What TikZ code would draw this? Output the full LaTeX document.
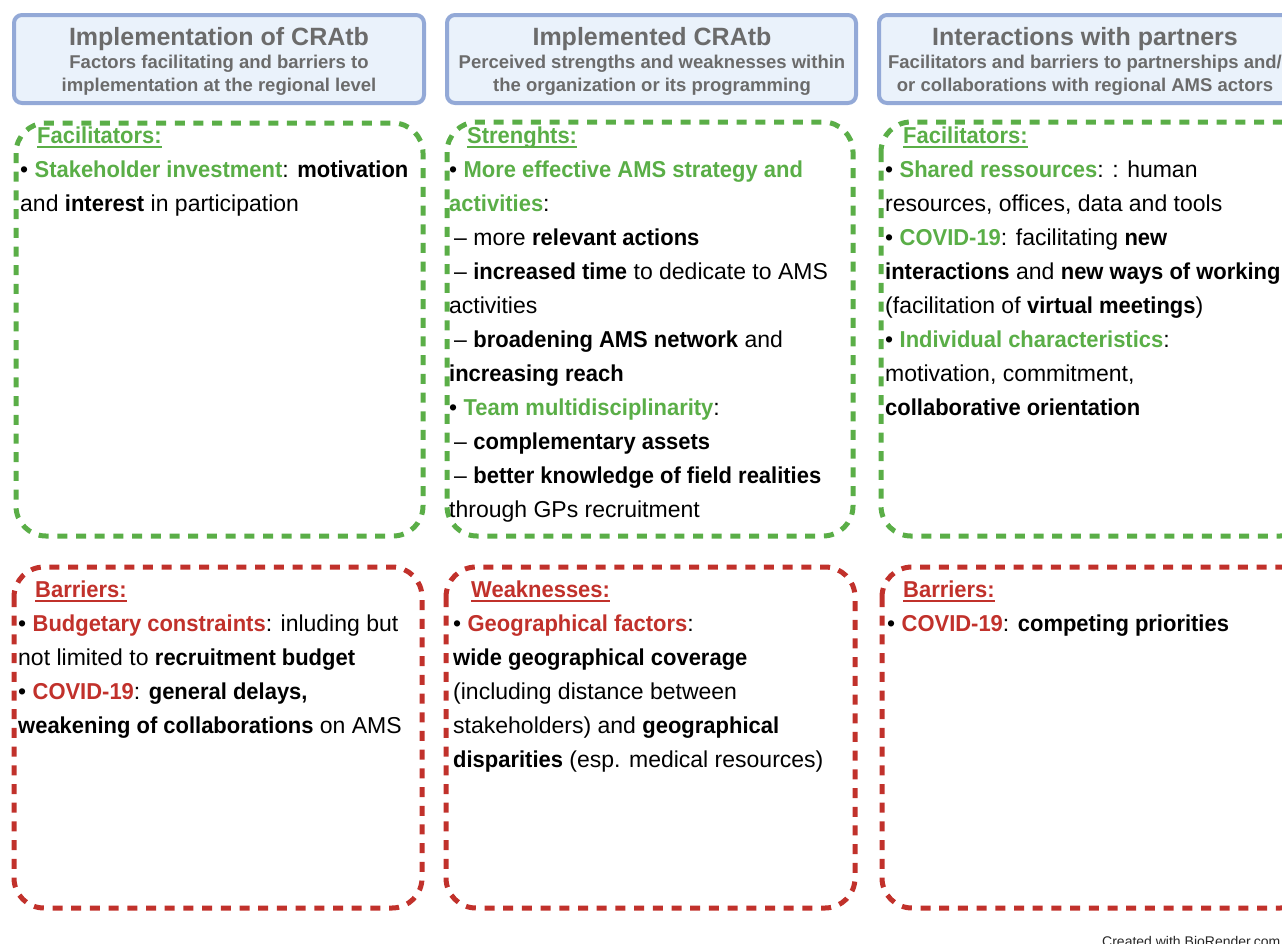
\documentclass[tikz,border=0pt]{standalone}
\usepackage{fontspec}
\setmainfont{Liberation Sans}
\newfontfamily\bodyfont{Liberation Sans}[BoldFeatures={FakeStretch=0.955}]
\definecolor{hdrfill}{HTML}{EAF2FB}
\definecolor{hdrdraw}{HTML}{93A9D7}
\definecolor{hdrtext}{HTML}{6B6B6B}
\definecolor{fgreen}{HTML}{5AAE47}
\definecolor{bred}{HTML}{C1312B}
\newcommand\myul[1]{\setbox0\hbox{#1}\rlap{\rule[-4.5pt]{\wd0}{1.8pt}}\box0}
\newcommand\G[1]{\textcolor{fgreen}{\textbf{#1}}}
\newcommand\R[1]{\textcolor{bred}{\textbf{#1}}}
\newcommand\B[1]{\textbf{#1}}
\newcommand\dsh{\hspace*{5pt}–\ }
\newcommand\txtlines[1]{\parbox[t]{440pt}{\bodyfont\fontsize{23}{34}\selectfont\raggedright #1}}
\tikzset{
  hdr/.style={draw=hdrdraw, fill=hdrfill, line width=4pt, rounded corners=8pt},
  gbox/.style={draw=fgreen, line width=5pt, rounded corners=30pt, dash pattern=on 10pt off 8.7pt},
  rbox/.style={draw=bred, line width=5pt, rounded corners=30pt, dash pattern=on 10pt off 8.7pt},
  htitle/.style={anchor=base, inner sep=0pt, text=hdrtext, font=\fontsize{25}{30}\selectfont\bfseries},
  hsub/.style={anchor=base, inner sep=0pt, text=hdrtext, font=\fontsize{18.5}{23}\selectfont\bfseries},
  ghead/.style={anchor=base west, inner sep=0pt, text=fgreen, font=\bodyfont\fontsize{23}{34}\selectfont\bfseries},
  rhead/.style={anchor=base west, inner sep=0pt, text=bred, font=\bodyfont\fontsize{23}{34}\selectfont\bfseries},
  body/.style={anchor=base west, inner sep=0pt, text=black},
  credit/.style={anchor=base west, inner sep=0pt, text=black!85, font=\fontsize{14}{16}\selectfont}
}
\begin{document}
\begin{tikzpicture}[x=1pt,y=-1pt]
\useasboundingbox (0,0) rectangle (1282,943);
\clip (0,0) rectangle (1282,943);
% headers
\path[hdr] (14,15) rectangle (424,103);
\path[hdr] (447,15) rectangle (856,103);
\path[hdr] (879,15) rectangle (1295,103);
\node[htitle] (h1t) at (219,45) {Implementation of CRAtb};
\node[hsub] (h1a) at (219,68) {Factors facilitating and barriers to};
\node[hsub] (h1b) at (219,91) {implementation at the regional level};
\node[htitle] (h2t) at (652,45) {Implemented CRAtb};
\node[hsub] (h2a) at (652,68) {Perceived strengths and weaknesses within};
\node[hsub] (h2b) at (652,91) {the organization or its programming};
\node[htitle] (h3t) at (1085,45) {Interactions with partners};
\node[hsub] (h3a) at (1085,68) {Facilitators and barriers to partnerships and/};
\node[hsub] (h3b) at (1085,91) {or collaborations with regional AMS actors};
% dashed boxes
\path[gbox] (16,123) rectangle (423,536);
\path[gbox] (447,122) rectangle (853,536);
\path[gbox] (881,122) rectangle (1310,536);
\path[rbox] (14,567) rectangle (422,908);
\path[rbox] (446,567) rectangle (855,908);
\path[rbox] (882,567) rectangle (1310,908);
% green texts
\node[ghead] (g1h) at (37,143) {\myul{Facilitators:}};
\node[body] (g1b) at (20,177) {\txtlines{%
• \G{Stakeholder investment}: \B{motivation}\\
and \B{interest} in participation}};
\node[ghead] (g2h) at (467,143) {\myul{Strenghts:}};
\node[body] (g2b) at (449,177) {\txtlines{%
• \G{More effective AMS strategy and}\\
\G{activities}:\\
\dsh more \B{relevant actions}\\
\dsh \B{increased time} to dedicate to AMS\\
activities\\
\dsh \B{broadening AMS network} and\\
\B{increasing reach}\\
• \G{Team multidisciplinarity}:\\
\dsh \B{complementary assets}\\
\dsh \B{better knowledge of field realities}\\
through GPs recruitment}};
\node[ghead] (g3h) at (903,143) {\myul{Facilitators:}};
\node[body] (g3b) at (885,177) {\txtlines{%
• \G{Shared ressources}: : human\\
resources, offices, data and tools\\
• \G{COVID-19}: facilitating \B{new}\\
\B{interactions} and \B{new ways of working}\\
(facilitation of \B{virtual meetings})\\
• \G{Individual characteristics}:\\
motivation, commitment,\\
\B{collaborative orientation}}};
% red texts
\node[rhead] (r1h) at (35,597) {\myul{Barriers:}};
\node[body] (r1b) at (18,631) {\txtlines{%
• \R{Budgetary constraints}: inluding but\\
not limited to \B{recruitment budget}\\
• \R{COVID-19}: \B{general delays,}\\
\B{weakening of collaborations} on AMS}};
\node[rhead] (r2h) at (471,597) {\myul{Weaknesses:}};
\node[body] (r2b) at (453,631) {\txtlines{%
• \R{Geographical factors}:\\
\B{wide geographical coverage}\\
(including distance between\\
stakeholders) and \B{geographical}\\
\B{disparities} (esp. medical resources)}};
\node[rhead] (r3h) at (903,597) {\myul{Barriers:}};
\node[body] (r3b) at (887,631) {\txtlines{%
• \R{COVID-19}: \B{competing priorities}}};
\node[credit] (cr) at (1102,946) {Created with BioRender.com};
\end{tikzpicture}
\end{document}
